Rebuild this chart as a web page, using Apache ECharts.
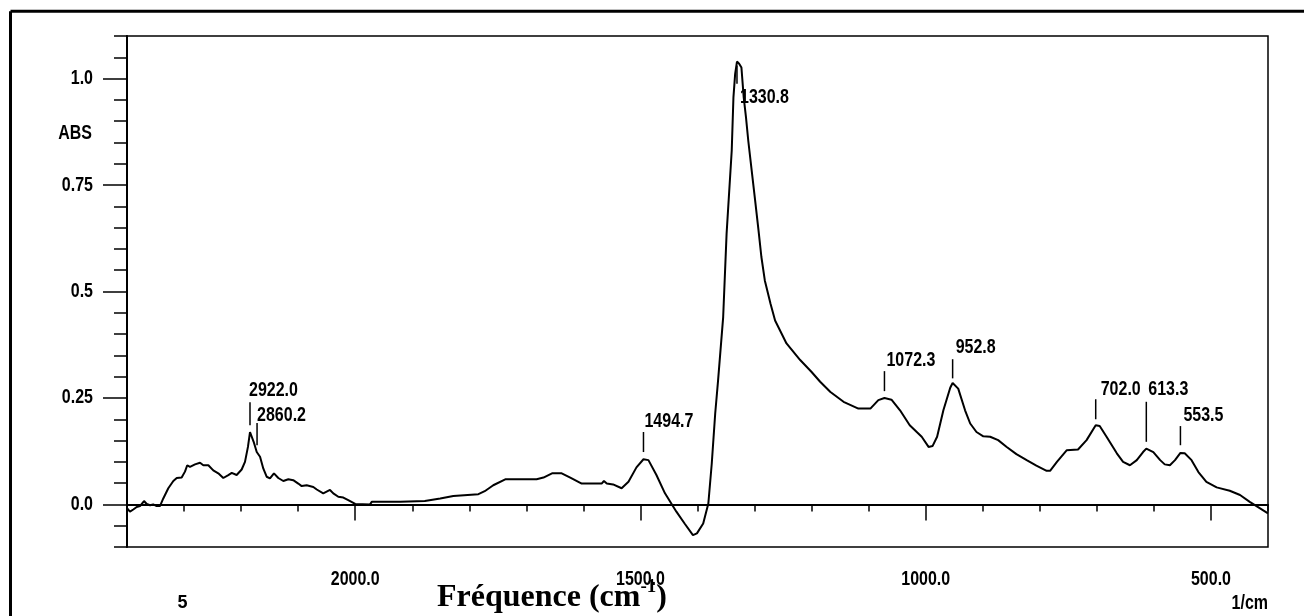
<!DOCTYPE html>
<html>
<head>
<meta charset="utf-8">
<title>Spectre IR</title>
<script src="https://cdn.jsdelivr.net/npm/echarts@6/dist/echarts.min.js"></script>
<style>
  html, body { margin: 0; padding: 0; background: #fff; }
  #chart { width: 1304px; height: 616px; }
</style>
</head>
<body>
<div id="chart"></div>
<script>
// Absorbance spectrum, wavenumber in cm-1 (4000 -> 400)
const wavenumbers = [
  4000, 3974, 3945, 3915, 3886, 3851, 3827, 3798, 3770, 3740, 3711, 3682, 3638, 3594, 3564, 3521,
  3492, 3472, 3448, 3404, 3360, 3331, 3287, 3244, 3200, 3156, 3112, 3082, 3039, 2995, 2966, 2940,
  2922, 2890, 2863, 2834, 2805, 2776, 2747, 2712, 2674, 2630, 2586, 2543, 2499, 2469, 2425, 2367,
  2337, 2280, 2221, 2192, 2148, 2104, 2061, 2000, 1974, 1971, 1921, 1878, 1851, 1828, 1784, 1773,
  1758, 1737, 1682, 1670, 1655, 1638, 1623, 1603, 1568, 1564, 1559, 1548, 1533, 1521, 1507, 1494.7,
  1486, 1472, 1457, 1437, 1422, 1408, 1401, 1390, 1381, 1375, 1369, 1364, 1355, 1349, 1340, 1337,
  1334, 1330.8, 1327, 1323, 1319, 1315, 1311, 1305, 1299, 1293, 1288, 1282, 1272, 1264, 1244, 1220,
  1200, 1185, 1167, 1144, 1118, 1097, 1083, 1072.3, 1060, 1045, 1028, 1007, 995, 988, 980, 969,
  957, 952.8, 943, 931, 922, 911, 899, 887, 873, 858, 841, 823, 806, 788, 782, 770,
  753, 733, 718, 702, 695, 683, 665, 654, 642, 630, 619, 613.3, 601, 589, 581, 572,
  563, 553.5, 546, 534, 522, 508, 490, 467, 449, 432, 400
];
const absorbance = [
  -0.009, -0.017, -0.012, -0.006, -0.004, 0.008, 0.001, -0.002, 0.000, -0.004, -0.004, 0.014, 0.038, 0.055, 0.062, 0.063,
  0.077, 0.092, 0.088, 0.094, 0.098, 0.092, 0.092, 0.080, 0.073, 0.062, 0.069, 0.074, 0.069, 0.082, 0.100, 0.135,
  0.170, 0.147, 0.123, 0.112, 0.084, 0.065, 0.061, 0.073, 0.062, 0.055, 0.059, 0.057, 0.049, 0.043, 0.045, 0.041,
  0.035, 0.026, 0.034, 0.026, 0.018, 0.016, 0.010, 0.001, 0.000, 0.006, 0.006, 0.008, 0.014, 0.020, 0.024, 0.031,
  0.045, 0.059, 0.059, 0.063, 0.073, 0.073, 0.063, 0.049, 0.049, 0.055, 0.049, 0.047, 0.038, 0.053, 0.087, 0.106,
  0.104, 0.069, 0.026, -0.017, -0.046, -0.072, -0.068, -0.045, 0.002, 0.096, 0.213, 0.290, 0.440, 0.636, 0.831, 0.956,
  1.011, 1.040, 1.035, 1.026, 0.956, 0.909, 0.854, 0.784, 0.714, 0.643, 0.581, 0.526, 0.471, 0.432, 0.378, 0.339,
  0.311, 0.288, 0.264, 0.241, 0.225, 0.225, 0.245, 0.250, 0.246, 0.221, 0.186, 0.159, 0.135, 0.137, 0.159, 0.221,
  0.274, 0.285, 0.272, 0.221, 0.190, 0.170, 0.160, 0.159, 0.151, 0.135, 0.118, 0.104, 0.091, 0.079, 0.079, 0.100,
  0.127, 0.129, 0.151, 0.186, 0.184, 0.159, 0.120, 0.100, 0.092, 0.104, 0.123, 0.131, 0.123, 0.104, 0.094, 0.092,
  0.104, 0.121, 0.120, 0.104, 0.076, 0.053, 0.040, 0.032, 0.022, 0.006, -0.021
];

// Labelled peaks and the absorbance span of each marker tick
const peakPositions = [2922.0, 2860.2, 1494.7, 1330.8, 1072.3, 952.8, 702.0, 613.3, 553.5];
const markerTop     = [0.240, 0.191, 0.170, 1.031, 0.313, 0.341, 0.247, 0.241, 0.184];
const markerBottom  = [0.186, 0.139, 0.123, 0.988, 0.266, 0.296, 0.200, 0.147, 0.139];

// Tick labels
const xTickLabels = [500, 1000, 1500, 2000];
const yTickLabels = [0, 0.25, 0.5, 0.75, 1.0];

// Label placement of each peak annotation relative to the top of its tick (px)
const peakLabelOffsets = [[-1, -12], [0, -8], [1, -11], [3, 32], [2, -11], [3, -12], [5, -10], [2, -12], [3, -11]];

// Axis limits: absorbance, and axis coordinate (see toAxis)
const Y_MIN = -0.1, Y_MAX = 1.1;
const X_MIN = 400, X_MAX = 2400;

// Above 2000 cm-1 the axis is compressed five times
function toAxis(w) {
  return w <= 2000 ? w : 2000 + (w - 2000) / 5;
}

// Condensed instrument-style lettering
const LABEL_FONT = 'bold 20px "Liberation Sans", Arial, sans-serif';
const LABEL_SCALE = 0.8;

const chart = echarts.init(document.getElementById('chart'), null, { renderer: 'canvas' });

const spectrum = wavenumbers.map((w, i) => [toAxis(w), absorbance[i]]);
const peaks = peakPositions.map((w, i) => [toAxis(w), markerTop[i], markerBottom[i], i]);

const axisLineStyle = { color: '#000', width: 1.5 };

function condensedText(x, y, text, align) {
  return {
    type: 'text', x: x, y: y, scaleX: LABEL_SCALE, scaleY: 1,
    style: { text: text, font: LABEL_FONT, fill: '#000', textAlign: align, textVerticalAlign: 'middle' }
  };
}

chart.setOption({
  animation: false,
  backgroundColor: '#fff',
  grid: {
    left: 127, right: 36, top: 36, bottom: 69,
    show: true, borderColor: '#000', borderWidth: 1.5, backgroundColor: 'transparent'
  },
  xAxis: [
    {
      type: 'value', position: 'bottom', min: X_MIN, max: X_MAX, interval: 100, inverse: true,
      axisLine: { show: true, lineStyle: { color: '#000', width: 2 } },
      axisTick: { show: true, length: 7, lineStyle: axisLineStyle },
      axisLabel: { show: false },
      splitLine: { show: false }
    },
    {
      type: 'value', position: 'bottom', min: X_MIN, max: X_MAX, inverse: true,
      axisLine: { show: false },
      axisTick: { show: true, length: 16, customValues: xTickLabels, lineStyle: axisLineStyle },
      axisLabel: { show: false },
      splitLine: { show: false }
    }
  ],
  yAxis: [
    {
      type: 'value', position: 'left', min: Y_MIN, max: Y_MAX, interval: 0.05,
      axisLine: { show: true, lineStyle: { color: '#000', width: 2 } },
      axisTick: { show: true, length: 13, lineStyle: axisLineStyle },
      axisLabel: { show: false },
      splitLine: { show: false }
    },
    {
      type: 'value', position: 'left', min: Y_MIN, max: Y_MAX,
      axisLine: { show: false },
      axisTick: { show: true, length: 24, customValues: yTickLabels, lineStyle: axisLineStyle },
      axisLabel: { show: false },
      splitLine: { show: false }
    }
  ],
  graphic: [
    // page frame
    { type: 'line', shape: { x1: 10.5, y1: 11.3, x2: 1304, y2: 11.3 }, style: { stroke: '#000', lineWidth: 3 }, silent: true },
    { type: 'line', shape: { x1: 10.5, y1: 11.3, x2: 10.5, y2: 616 }, style: { stroke: '#000', lineWidth: 3 }, silent: true },
    // axis units
    Object.assign(condensedText(92, 133, 'ABS', 'right'), { silent: true }),
    Object.assign(condensedText(1268, 603, '1/cm', 'right'), { silent: true }),
    { type: 'text', x: 182.5, y: 603, silent: true, style: { text: '5', font: 'bold 18px "Liberation Sans", Arial, sans-serif', fill: '#000', textAlign: 'center', textVerticalAlign: 'middle' } },
    // axis title
    {
      type: 'text', x: 437, y: 596, silent: true,
      style: {
        text: '{t|Fréquence (cm}{s|-1}{t|)}',
        textVerticalAlign: 'middle', textAlign: 'left',
        rich: {
          t: { fontFamily: '"Liberation Serif", "Times New Roman", serif', fontWeight: 'bold', fontSize: 32, lineHeight: 36, fill: '#000', verticalAlign: 'bottom' },
          s: { fontFamily: '"Liberation Serif", "Times New Roman", serif', fontWeight: 'bold', fontSize: 19, lineHeight: 36, fill: '#000', verticalAlign: 'top', padding: [0, 0, 14, 0] }
        }
      }
    }
  ],
  series: [
    {
      type: 'line', xAxisIndex: 0, yAxisIndex: 0,
      data: spectrum, symbol: 'none', smooth: false,
      lineStyle: { color: '#000', width: 2 },
      silent: true, z: 3
    },
    {
      // peak ticks and their wavenumber labels
      type: 'custom', xAxisIndex: 0, yAxisIndex: 0,
      data: peaks, silent: true, z: 4,
      renderItem: function (params, api) {
        const top = api.coord([api.value(0), api.value(1)]);
        const bottom = api.coord([api.value(0), api.value(2)]);
        const i = api.value(3);
        const off = peakLabelOffsets[i];
        return {
          type: 'group',
          children: [
            { type: 'line', shape: { x1: top[0], y1: top[1], x2: bottom[0], y2: bottom[1] }, style: { stroke: '#000', lineWidth: 1.5 } },
            condensedText(top[0] + off[0], top[1] + off[1], peakPositions[i].toFixed(1), 'left')
          ]
        };
      }
    },
    {
      // wavenumber tick labels under the axis
      type: 'custom', xAxisIndex: 0, yAxisIndex: 0,
      data: xTickLabels.map(v => [v]), silent: true, clip: false,
      renderItem: function (params, api) {
        const v = api.value(0);
        const p = api.coord([v, Y_MIN]);
        return condensedText(p[0], p[1] + 32, v.toFixed(1), 'center');
      }
    },
    {
      // absorbance tick labels left of the axis
      type: 'custom', xAxisIndex: 0, yAxisIndex: 0,
      data: yTickLabels.map(v => [X_MAX, v]), silent: true, clip: false,
      renderItem: function (params, api) {
        const v = api.value(1);
        const p = api.coord([X_MAX, v]);
        const text = (v === 0.25 || v === 0.75) ? v.toFixed(2) : v.toFixed(1);
        return condensedText(p[0] - 34, p[1], text, 'right');
      }
    }
  ]
});
</script>
</body>
</html>
